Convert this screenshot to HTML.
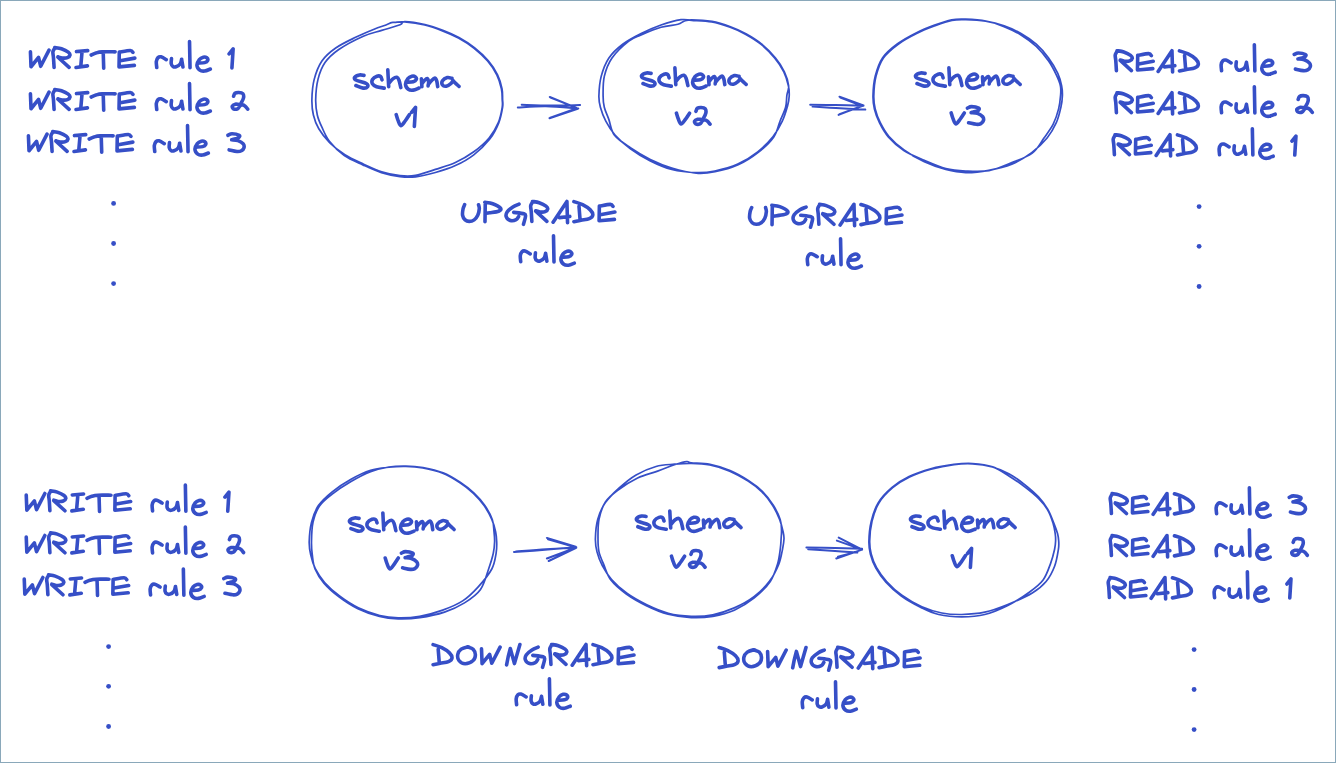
<!DOCTYPE html>
<html><head><meta charset="utf-8"><title>Schema upgrade / downgrade rules</title>
<style>
html,body{margin:0;padding:0;background:#fff;}
body{width:1336px;height:763px;overflow:hidden;font-family:"Liberation Sans",sans-serif;}
svg{display:block;}
</style></head><body>
<svg width="1336" height="763" viewBox="0 0 1336 763">
<rect x="0.5" y="0.5" width="1335" height="762" fill="#fff" stroke="#8aa8ba" stroke-width="1"/>
<g fill="none" stroke="#364fc7" stroke-linecap="round" stroke-linejoin="round">
<path stroke-width="1.7" d="M404.7,21.9C409.65,22.33 418.3,23.47 424.7,25C431.1,26.53 437.48,28.93 443.1,31.1C448.72,33.27 453.28,35.18 458.4,38C463.52,40.82 468.93,44.17 473.8,48C478.67,51.83 483.77,56.53 487.6,61C491.43,65.47 494.5,70.18 496.8,74.8C499.1,79.42 500.5,84.6 501.4,88.7C502.3,92.8 502.07,96.3 502.2,99.4C502.33,102.5 502.85,103.43 502.2,107.3C501.55,111.17 500.48,117.48 498.3,122.6C496.12,127.72 493.18,133.13 489.1,138C485.02,142.87 479.42,147.72 473.8,151.8C468.18,155.88 461.8,159.57 455.4,162.5C449,165.43 442.05,167.25 435.4,169.4C428.75,171.55 421.38,174.37 415.5,175.4C409.62,176.43 405.73,176.22 400.1,175.6C394.47,174.98 387.83,173.63 381.7,171.7C375.57,169.77 369.43,166.82 363.3,164C357.17,161.18 350.52,158.37 344.9,154.8C339.28,151.23 333.95,146.93 329.6,142.6C325.25,138.27 321.5,133.4 318.8,128.8C316.1,124.2 314.55,119.88 313.4,115C312.25,110.12 311.77,105.43 311.9,99.5C312.03,93.57 312.53,85.82 314.2,79.4C315.87,72.98 318.32,66.23 321.9,61C325.48,55.77 330.08,51.95 335.7,48C341.32,44.05 349.2,40.43 355.6,37.3C362,34.17 369.03,31.25 374.1,29.2C379.17,27.15 383.1,26.1 386,25C388.9,23.9 390,23.03 391.5,22.6C393,22.17 392.8,22.52 395,22.4C397.2,22.28 399.75,21.47 404.7,21.9M404.65,21.6C408.78,21.55 418.4,23.02 424.88,24.52C431.35,26.02 437.81,28.42 443.48,30.6C449.16,32.78 453.77,34.74 458.93,37.6C464.09,40.46 469.55,43.86 474.45,47.74C479.36,51.62 484.48,56.38 488.34,60.89C492.19,65.41 495.31,70.21 497.58,74.83C499.86,79.46 501.16,84.56 502,88.66C502.83,92.76 502.5,96.32 502.6,99.45C502.7,102.58 503.23,103.52 502.59,107.42C501.95,111.32 500.89,117.57 498.76,122.85C496.63,128.13 493.96,133.77 489.8,139.09C485.64,144.42 479.53,150.38 473.8,154.8C468.07,159.22 461.8,162.65 455.4,165.6C449,168.55 442.04,170.63 435.4,172.5C428.76,174.37 421.46,176.12 415.56,176.8C409.66,177.48 405.7,177.29 400.01,176.59C394.32,175.9 387.62,174.61 381.43,172.65C375.24,170.7 369.05,167.72 362.86,164.87C356.68,162.02 349.87,159.45 344.32,155.55C338.78,151.66 333.34,146.23 329.6,141.5C325.86,136.77 323.95,131.62 321.9,127.2C319.85,122.78 318.33,119.6 317.3,115C316.27,110.4 315.58,105.53 315.7,99.6C315.82,93.67 316.45,85.57 318,79.4C319.55,73.23 321.53,67.58 325,62.6C328.47,57.62 332.42,53.9 338.8,49.5C345.18,45.1 356.15,39.38 363.3,36.2C370.45,33.02 375.57,32.3 381.7,30.4C387.83,28.5 396.28,26.27 400.1,24.8C403.92,23.33 400.52,21.65 404.65,21.6M691.7,20.4C696.82,20.78 705.3,20.85 711.7,22C718.1,23.15 724.48,25.27 730.1,27.3C735.72,29.33 740.28,31.38 745.4,34.2C750.52,37.02 755.93,40.23 760.8,44.2C765.67,48.17 770.77,53.4 774.6,58C778.43,62.6 781.5,67.18 783.8,71.8C786.1,76.42 787.5,81.67 788.4,85.7C789.3,89.73 789.33,92.65 789.2,96C789.07,99.35 788.75,101.6 787.6,105.8C786.45,110 784.72,116.08 782.3,121.2C779.88,126.32 777.2,131.4 773.1,136.5C769,141.6 763.58,147.2 757.7,151.8C751.82,156.4 744.95,160.9 737.8,164.1C730.65,167.3 721.72,169.58 714.8,171C707.88,172.42 703.47,172.85 696.3,172.6C689.13,172.35 679.47,171.43 671.8,169.5C664.13,167.57 657.2,164.45 650.3,161C643.4,157.55 636.28,153.13 630.4,148.8C624.52,144.47 619.1,139.6 615,135C610.9,130.4 608.23,125.82 605.8,121.2C603.37,116.58 601.55,111.5 600.4,107.3C599.25,103.1 598.77,101.15 598.9,96C599.03,90.85 599.53,82.73 601.2,76.4C602.87,70.07 605.32,63.37 608.9,58C612.48,52.63 617.33,48.28 622.7,44.2C628.07,40.12 634.72,36.7 641.1,33.5C647.48,30.3 654.35,27.3 661,25C667.65,22.7 675.88,20.47 681,19.7C686.12,18.93 686.58,20.02 691.7,20.4M691.64,19.8C696.28,19.84 705.39,20.25 711.86,21.42C718.33,22.58 724.79,24.73 730.46,26.79C736.14,28.85 740.75,30.93 745.91,33.79C751.08,36.64 756.54,39.9 761.44,43.92C766.34,47.93 771.51,53.23 775.33,57.88C779.16,62.53 782.17,67.19 784.38,71.82C786.59,76.44 788.18,81.76 788.6,85.64C789.02,89.52 787.4,91.49 786.9,95.1C786.4,98.71 786.75,102.95 785.6,107.3C784.45,111.65 781.97,116.27 780,121.2C778.03,126.13 777.41,131.71 773.79,136.9C770.17,142.09 764.2,147.71 758.27,152.36C752.34,157.01 745.41,161.56 738.2,164.8C730.98,168.03 721.96,170.38 714.98,171.78C707.99,173.18 703.49,173.83 696.29,173.2C689.1,172.57 679.47,170.28 671.8,168C664.13,165.72 657.2,162.87 650.3,159.5C643.4,156.13 636.4,151.91 630.4,147.8C624.4,143.69 617.87,139.57 614.29,134.87C610.71,130.17 610.56,124.19 608.9,119.6C607.24,115.01 605.27,111.23 604.3,107.3C603.33,103.37 603.1,101.15 603.1,96C603.1,90.85 602.82,82.73 604.3,76.4C605.78,70.07 607.92,63.87 612,58C616.08,52.13 623.95,45.03 628.8,41.2C633.65,37.37 635.73,37.32 641.1,35C646.47,32.68 654.87,29.08 661,27.3C667.13,25.52 674.07,25.32 677.9,24.3C681.73,23.28 681.71,21.95 684,21.2C686.29,20.45 687,19.77 691.64,19.8M965.7,19.7C971.33,19.83 979.3,20.18 985.7,21.2C992.1,22.22 998.22,23.75 1004.1,25.8C1009.98,27.85 1015.63,30.43 1021,33.5C1026.37,36.57 1031.7,40.12 1036.3,44.2C1040.9,48.28 1045.02,53.13 1048.6,58C1052.18,62.87 1055.63,68.78 1057.8,73.4C1059.97,78.02 1060.83,81.98 1061.6,85.7C1062.37,89.42 1062.52,92.1 1062.4,95.7C1062.28,99.3 1061.92,102.8 1060.9,107.3C1059.88,111.8 1058.6,117.58 1056.3,122.7C1054,127.82 1051.2,133.02 1047.1,138C1043,142.98 1037.58,148.25 1031.7,152.6C1025.82,156.95 1018.95,161.15 1011.8,164.1C1004.65,167.05 996.48,168.88 988.8,170.3C981.12,171.72 972.87,172.73 965.7,172.6C958.53,172.47 952.7,171.3 945.8,169.5C938.9,167.7 931.2,165 924.3,161.8C917.4,158.6 910.28,154.52 904.4,150.3C898.52,146.08 893.02,141.1 889,136.5C884.98,131.9 882.6,127.3 880.3,122.7C878,118.1 876.28,113.4 875.2,108.9C874.12,104.4 873.67,101.12 873.8,95.7C873.93,90.28 874.4,82.68 876,76.4C877.6,70.12 879.7,63.37 883.4,58C887.1,52.63 892.67,48.28 898.2,44.2C903.73,40.12 910.47,36.57 916.6,33.5C922.73,30.43 929.12,27.98 935,25.8C940.88,23.62 946.78,21.42 951.9,20.4C957.02,19.38 960.07,19.57 965.7,19.7M965.64,19.2C971.34,19.4 979.45,19.78 985.86,21.02C992.27,22.25 998.24,24.27 1004.1,26.6C1009.96,28.93 1015.63,31.68 1021,35C1026.37,38.32 1031.7,42.15 1036.3,46.5C1040.9,50.85 1045.27,56.37 1048.6,61.1C1051.93,65.83 1054.33,70.8 1056.3,74.9C1058.27,79 1059.68,82.33 1060.4,85.7C1061.12,89.07 1060.9,91.23 1060.6,95.1C1060.3,98.97 1059.83,104.05 1058.6,108.9C1057.37,113.75 1055.63,119.35 1053.2,124.2C1050.77,129.05 1047.49,133.17 1044,138C1040.51,142.83 1037.64,149.06 1032.27,153.16C1026.9,157.26 1019.01,159.7 1011.8,162.6C1004.59,165.5 996.66,169.18 988.98,170.58C981.3,171.98 972.9,171.35 965.7,171C958.5,170.65 952.7,170.28 945.8,168.5C938.9,166.72 931.3,163.3 924.3,160.3C917.3,157.3 909.79,154.43 903.79,150.52C897.79,146.62 892.34,141.47 888.29,136.88C884.25,132.28 881.85,127.59 879.54,122.95C877.23,118.31 875.5,113.57 874.41,109.03C873.32,104.5 872.87,101.19 873,95.72C873.13,90.26 873.6,82.6 875.21,76.26C876.82,69.93 878.94,63.12 882.66,57.71C886.38,52.29 891.97,47.89 897.53,43.76C903.1,39.62 909.88,36.02 916.06,32.91C922.24,29.8 928.68,27.28 934.62,25.1C940.56,22.91 946.52,20.81 951.7,19.83C956.87,18.84 959.95,19 965.64,19.2M405.9,466.4C411.53,466.53 416.67,466.85 422.8,468C428.93,469.15 436.57,470.87 442.7,473.3C448.83,475.73 454.48,479.27 459.6,482.6C464.72,485.93 469.32,489.47 473.4,493.3C477.48,497.13 481.03,501.25 484.1,505.6C487.17,509.95 489.88,515.05 491.8,519.4C493.72,523.75 494.78,527.97 495.6,531.7C496.42,535.43 496.62,538.2 496.7,541.8C496.78,545.4 496.92,548.77 496.1,553.3C495.28,557.83 494.82,563.37 491.8,569C488.78,574.63 482.85,581.78 478,587.1C473.15,592.42 468.58,597.07 462.7,600.9C456.82,604.73 449.87,607.53 442.7,610.1C435.53,612.67 427.12,615.02 419.7,616.3C412.28,617.58 404.85,617.93 398.2,617.8C391.55,617.67 386.45,617.17 379.8,615.5C373.15,613.83 364.95,611 358.3,607.8C351.65,604.6 345.52,600.52 339.9,596.3C334.28,592.08 328.7,587.1 324.6,582.5C320.5,577.9 317.62,573.3 315.3,568.7C312.98,564.1 311.72,559.38 310.7,554.9C309.68,550.42 309.07,547.22 309.2,541.8C309.33,536.38 309.97,528.43 311.5,522.4C313.03,516.37 314.95,510.7 318.4,505.6C321.85,500.5 326.83,496.15 332.2,491.8C337.57,487.45 344.2,483.08 350.6,479.5C357,475.92 364.2,472.35 370.6,470.3C377,468.25 383.12,467.85 389,467.2C394.88,466.55 400.27,466.27 405.9,466.4M405.9,466C411.59,466.1 416.79,466.47 422.99,467.62C429.18,468.77 436.9,470.45 443.09,472.9C449.28,475.35 454.99,478.95 460.15,482.32C465.31,485.7 469.95,489.27 474.06,493.15C478.18,497.03 481.8,501.21 484.84,505.59C487.87,509.96 490.75,515.07 492.28,519.42C493.81,523.77 493.61,527.97 494,531.7C494.39,535.43 494.72,538.2 494.6,541.8C494.48,545.4 494.28,548.82 493.3,553.3C492.32,557.78 490.83,562.67 488.7,568.7C486.57,574.73 484.53,583.8 480.5,589.5C476.47,595.2 470.5,599.13 464.5,602.9C458.5,606.67 451.94,609.65 444.5,612.1C437.06,614.55 427.57,616.47 419.84,617.59C412.11,618.7 404.84,618.98 398.12,618.8C391.41,618.61 386.25,618.15 379.54,616.46C372.83,614.77 364.55,611.9 357.84,608.66C351.14,605.42 344.95,601.29 339.3,597.02C333.64,592.76 327.94,587.76 323.89,583.08C319.85,578.4 316.97,573.64 315.04,568.95C313.11,564.25 312.89,559.42 312.3,554.9C311.71,550.38 311.38,547.22 311.5,541.8C311.62,536.38 311.67,528.37 313,522.4C314.33,516.43 316.3,510.72 319.5,506C322.7,501.28 327.02,498.13 332.2,494.1C337.38,490.07 344.2,485.52 350.6,481.8C357,478.08 364.23,474.26 370.6,471.8C376.97,469.34 382.93,467.99 388.82,467.02C394.7,466.05 400.2,465.9 405.9,466M691.3,463.4C697.18,463.53 703.4,463.72 709.8,465C716.2,466.28 723.32,468.42 729.7,471.1C736.08,473.78 742.73,477.65 748.1,481.1C753.47,484.55 757.8,487.72 761.9,491.8C766,495.88 769.75,501 772.7,505.6C775.65,510.2 777.87,515.05 779.6,519.4C781.33,523.75 782.37,528.47 783.1,531.7C783.83,534.93 784.08,535.95 784,538.8C783.92,541.65 783.47,544.57 782.6,548.8C781.73,553.03 780.97,558.83 778.8,564.2C776.63,569.57 773.68,575.63 769.6,581C765.52,586.37 760.18,591.92 754.3,596.4C748.42,600.88 741.22,604.83 734.3,607.9C727.38,610.97 719.97,613.4 712.8,614.8C705.63,616.2 698.72,616.55 691.3,616.3C683.88,616.05 675.72,615.22 668.3,613.3C660.88,611.38 653.7,608.13 646.8,604.8C639.9,601.47 632.77,597.52 626.9,593.3C621.03,589.08 615.7,584.1 611.6,579.5C607.5,574.9 604.73,570.3 602.3,565.7C599.87,561.1 598.15,556.38 597,551.9C595.85,547.42 595.28,544.22 595.4,538.8C595.52,533.38 596.03,525.43 597.7,519.4C599.37,513.37 601.82,507.83 605.4,502.6C608.98,497.37 614.08,492.6 619.2,488C624.32,483.4 629.97,478.58 636.1,475C642.23,471.42 649.6,468.3 656,466.5C662.4,464.7 668.62,464.72 674.5,464.2C680.38,463.68 685.42,463.27 691.3,463.4M691.27,462.8C695.15,463.29 703.51,463.12 709.97,464.42C716.44,465.72 723.64,467.88 730.09,470.6C736.53,473.32 743.25,477.24 748.66,480.73C754.07,484.22 758.44,487.43 762.57,491.56C766.7,495.69 770.51,500.86 773.45,505.51C776.38,510.16 778.84,515.36 780.18,519.44C781.53,523.53 781.35,526.77 781.5,530C781.65,533.23 781.3,535.67 781.1,538.8C780.9,541.93 780.9,544.57 780.3,548.8C779.7,553.03 779.17,558.77 777.5,564.2C775.83,569.63 774.16,575.79 770.29,581.4C766.42,587.02 760.3,593.1 754.3,597.9C748.3,602.7 741.22,607.13 734.3,610.2C727.38,613.27 719.97,615.07 712.8,616.3C705.63,617.53 698.73,617.94 691.27,617.6C683.82,617.26 675.54,616.25 668.05,614.26C660.56,612.27 653.31,609.03 646.35,605.66C639.39,602.29 632.2,598.28 626.29,594.02C620.38,589.75 614.62,584.92 610.89,580.07C607.16,575.22 605.88,569.6 603.9,564.9C601.92,560.2 599.98,556.25 599,551.9C598.02,547.55 598,544.22 598,538.8C598,533.38 597.79,525.48 599,519.4C600.21,513.32 602.14,507.16 605.25,502.31C608.37,497.46 612.31,494.35 617.7,490.3C623.09,486.25 630.95,481.2 637.6,478C644.25,474.8 651.2,473.4 657.6,471.1C664,468.8 671.15,465.8 676,464.2C680.85,462.6 684.15,461.73 686.7,461.5C689.25,461.27 687.39,462.31 691.27,462.8M972.5,463.9C978.88,464.28 986.27,465.33 992.4,467C998.53,468.67 1003.92,470.97 1009.3,473.9C1014.68,476.83 1019.83,480.77 1024.7,484.6C1029.57,488.43 1034.67,492.8 1038.5,496.9C1042.33,501 1045.15,504.85 1047.7,509.2C1050.25,513.55 1052.15,518.92 1053.8,523C1055.45,527.08 1056.78,530.7 1057.6,533.7C1058.42,536.7 1058.57,538.4 1058.7,541C1058.83,543.6 1059.08,545.1 1058.4,549.3C1057.72,553.5 1056.65,560.83 1054.6,566.2C1052.55,571.57 1049.82,577.03 1046.1,581.5C1042.38,585.97 1038.68,589.17 1032.3,593C1025.92,596.83 1015.72,601.3 1007.8,604.5C999.88,607.7 992.48,610.53 984.8,612.2C977.12,613.87 968.87,614.37 961.7,614.5C954.53,614.63 948.45,614.28 941.8,613C935.15,611.72 928.45,609.75 921.8,606.8C915.15,603.85 907.77,599.52 901.9,595.3C896.03,591.08 890.82,586.1 886.6,581.5C882.38,576.9 879.17,572.3 876.6,567.7C874.03,563.1 872.35,558.35 871.2,553.9C870.05,549.45 869.57,546.42 869.7,541C869.83,535.58 870.47,527.73 872,521.4C873.53,515.07 875.45,508.62 878.9,503C882.35,497.38 887.58,492.03 892.7,487.7C897.82,483.37 903.2,480.07 909.6,477C916,473.93 923.68,471.35 931.1,469.3C938.52,467.25 947.2,465.6 954.1,464.7C961,463.8 966.12,463.52 972.5,463.9M972.54,463.5C978.99,463.9 986.52,464.72 992.65,466.84C998.78,468.96 1003.96,472.86 1009.3,476.2C1014.64,479.54 1019.83,483.18 1024.7,486.9C1029.57,490.62 1034.67,494.65 1038.5,498.5C1042.33,502.35 1045.28,505.92 1047.7,510C1050.12,514.08 1051.75,519.05 1053,523C1054.25,526.95 1054.77,530.7 1055.2,533.7C1055.63,536.7 1055.7,538.4 1055.6,541C1055.5,543.6 1055.42,545.62 1054.6,549.3C1053.78,552.98 1052.62,557.98 1050.7,563.1C1048.78,568.22 1046.67,575.15 1043.1,580C1039.53,584.85 1035.18,587.95 1029.3,592.2C1023.42,596.45 1015.22,601.78 1007.8,605.5C1000.38,609.22 992.48,612.62 984.8,614.5C977.12,616.38 969.38,616.8 961.7,616.8C954.02,616.8 945.43,616.02 938.7,614.5C931.97,612.98 927.58,610.74 921.35,607.66C915.11,604.58 907.2,600.28 901.29,596.02C895.38,591.76 890.14,586.72 885.89,582.08C881.65,577.43 878.42,572.79 875.84,568.15C873.26,563.51 871.57,558.72 870.41,554.23C869.25,549.74 868.77,546.69 868.9,541.23C869.03,535.77 869.67,527.85 871.21,521.47C872.75,515.08 874.68,508.58 878.15,502.91C881.62,497.25 886.88,491.84 892.03,487.46C897.18,483.08 902.59,479.74 909.04,476.63C915.49,473.52 923.23,470.84 930.71,468.8C938.19,466.77 946.97,465.3 953.94,464.42C960.91,463.53 966.08,463.1 972.54,463.5"/>
<path stroke-width="2" d="M517.8,107.5C522.48,107.28 535.82,106.05 545.9,106.2C555.98,106.35 572.9,108.03 578.3,108.4M521.7,104.8C526.42,104.92 540.27,105.45 550,105.5C559.73,105.55 575.08,105.17 580.1,105.1M549.8,97L574.7,107.2M550.5,97.6L576,107.6M549.5,118.2L577.7,108.7M550.3,117.6L577,108.2M810.2,104.8C814.33,104.85 826.12,104.95 835,105.1C843.88,105.25 858.75,105.6 863.5,105.7M812.6,106.6C816.48,106.85 827.12,107.6 835.9,108.1C844.68,108.6 860.4,109.35 865.3,109.6M839.5,96.7L863.5,105.4M840.3,97.5L862.5,106M838.6,114.9L859.9,106.6M839.5,114.2L862,106M514,552C519.17,551.63 534.62,550.6 545,549.8C555.38,549 571.08,547.63 576.3,547.2M516,551.5C521,551.12 535.95,549.82 546,549.2C556.05,548.58 571.25,548.03 576.3,547.8M546.9,537.9L575.7,546.6M548,539.2L575.7,547.2M546.9,558.5L575.7,547.8M548.7,561L575.7,548.2M806.4,547.5C811.17,547.58 825.72,547.8 835,548C844.28,548.2 857.58,548.58 862.1,548.7M808.2,549.3C812.67,549.58 826.82,550.45 835,551C843.18,551.55 853.58,552.33 857.3,552.6M836.9,540.6L862.1,549.6M838.7,537.6L862.1,549.6M836.3,558.5L862.1,549.6M838,556.8L857.9,551.4"/>
<path stroke-width="3.6" d="M30.43,51.77L31.02,66.75L38.56,57.46L40.71,66.3L49.03,50.15M54.22,48.93C54,49.44 53.01,50.55 52.88,51.98C52.75,53.4 53.26,54.93 53.46,57.5C53.66,60.07 53.98,65.75 54.08,67.4M54.74,47.5C55.86,47.71 59.18,47.96 61.43,48.74C63.68,49.52 66.83,51.1 68.25,52.17C69.68,53.23 70.12,54.2 69.98,55.12C69.84,56.04 68.68,57.2 67.39,57.69C66.09,58.18 63.77,58.21 62.2,58.07C60.63,57.93 58.68,57.04 57.97,56.83M57.97,57.21L69.12,67.4M76.48,51.57L87.73,50.65M82.1,51.11L80.76,66.53M76.03,67.55L87.46,65.89M91.23,55.02C92.02,54.68 94.17,53.5 95.99,52.97C97.82,52.44 98.99,52.04 102.18,51.85C105.37,51.66 112.97,51.85 115.13,51.85M103.23,52.6L103.7,68.15M132.94,52.43C132.5,52.1 132.53,50.5 130.25,50.45C127.98,50.4 121.12,51.88 119.3,52.16M119.3,52.16L119.03,66.85L134.38,65.41M120.2,60.72L134.83,58.11M156.75,67.55C156.68,66.55 156.12,63.21 156.33,61.56C156.54,59.9 157.25,58.41 158.02,57.62C158.8,56.84 159.62,56.51 160.98,56.85C162.35,57.19 165.36,59.2 166.23,59.67M171.49,58.65C171.45,59.5 170.98,62.45 171.23,63.76C171.48,65.06 172.17,65.97 172.96,66.47C173.76,66.98 174.8,67.21 176,66.8C177.2,66.39 179.22,65.27 180.16,64C181.1,62.74 181.38,60.02 181.63,59.23M181.63,59.23L182.93,67.05M189.53,41.65L190.03,67.75M198.43,63.08C199.46,63.01 203.06,63.08 204.6,62.64C206.14,62.2 207.32,61.24 207.69,60.43C208.05,59.61 207.54,58.32 206.8,57.77C206.07,57.22 204.53,56.85 203.28,57.15C202.03,57.45 200.37,58.18 199.31,59.54C198.25,60.9 196.86,63.52 196.93,65.3C197,67.07 198.47,69.21 199.75,70.16C201.03,71.12 202.84,71.24 204.6,71.05C206.36,70.86 209.37,69.35 210.33,69.01M229.13,53.85L233.13,48.85L231.93,67.85M30.43,93.77L31.02,108.75L38.56,99.46L40.71,108.3L49.03,92.15M54.22,90.93C54,91.44 53.01,92.55 52.88,93.98C52.75,95.4 53.26,96.93 53.46,99.5C53.66,102.07 53.98,107.75 54.08,109.4M54.74,89.5C55.86,89.71 59.18,89.96 61.43,90.74C63.68,91.52 66.83,93.1 68.25,94.17C69.68,95.23 70.12,96.2 69.98,97.12C69.84,98.04 68.68,99.2 67.39,99.69C66.09,100.18 63.77,100.21 62.2,100.07C60.63,99.93 58.68,99.04 57.97,98.83M57.97,99.21L69.12,109.4M76.48,93.57L87.73,92.65M82.1,93.11L80.76,108.53M76.03,109.55L87.46,107.89M91.23,97.02C92.02,96.68 94.17,95.5 95.99,94.97C97.82,94.44 98.99,94.04 102.18,93.85C105.37,93.66 112.97,93.85 115.13,93.85M103.23,94.6L103.7,110.15M132.94,94.43C132.5,94.1 132.53,92.5 130.25,92.45C127.98,92.4 121.12,93.88 119.3,94.16M119.3,94.16L119.03,108.85L134.38,107.41M120.2,102.72L134.83,100.11M156.75,109.55C156.68,108.55 156.12,105.21 156.33,103.56C156.54,101.9 157.25,100.41 158.02,99.62C158.8,98.84 159.62,98.51 160.98,98.85C162.35,99.19 165.36,101.2 166.23,101.67M171.49,100.65C171.45,101.5 170.98,104.45 171.23,105.76C171.48,107.06 172.17,107.97 172.96,108.47C173.76,108.98 174.8,109.21 176,108.8C177.2,108.39 179.22,107.27 180.16,106C181.1,104.74 181.38,102.02 181.63,101.23M181.63,101.23L182.93,109.05M189.53,83.65L190.03,109.75M198.43,105.08C199.46,105.01 203.06,105.08 204.6,104.64C206.14,104.2 207.32,103.24 207.69,102.43C208.05,101.61 207.54,100.32 206.8,99.77C206.07,99.22 204.53,98.85 203.28,99.15C202.03,99.45 200.37,100.18 199.31,101.54C198.25,102.9 196.86,105.52 196.93,107.3C197,109.07 198.47,111.21 199.75,112.16C201.03,113.12 202.84,113.24 204.6,113.05C206.36,112.86 209.37,111.35 210.33,111.01M233.62,96.24C233.85,95.74 234.12,93.89 234.97,93.26C235.82,92.63 237.41,92.39 238.73,92.45C240.04,92.51 242.04,92.74 242.85,93.62C243.65,94.51 243.82,96.26 243.56,97.78C243.31,99.3 241.96,101.64 241.32,102.74C240.68,103.84 240.71,104.12 239.71,104.37C238.71,104.61 236.56,103.9 235.32,104.19C234.09,104.47 232.59,105.31 232.28,106.08C231.97,106.85 232.56,108.34 233.44,108.79C234.32,109.24 236.44,109.3 237.56,108.79C238.68,108.28 239.41,106.41 240.16,105.72C240.91,105.03 241.22,104.58 242.04,104.64C242.86,104.7 244.14,105.33 245.08,106.08C246.02,106.83 247.25,108.64 247.68,109.15M28.43,135.77L29.02,150.75L36.56,141.46L38.71,150.3L47.03,134.15M52.22,132.93C52,133.44 51.01,134.55 50.88,135.98C50.75,137.4 51.26,138.93 51.46,141.5C51.66,144.07 51.98,149.75 52.08,151.4M52.74,131.5C53.86,131.71 57.18,131.96 59.43,132.74C61.68,133.52 64.83,135.1 66.25,136.17C67.68,137.23 68.12,138.2 67.98,139.12C67.84,140.04 66.68,141.2 65.39,141.69C64.09,142.18 61.77,142.21 60.2,142.07C58.63,141.93 56.68,141.04 55.97,140.83M55.97,141.21L67.12,151.4M74.48,135.57L85.73,134.65M80.1,135.11L78.76,150.53M74.03,151.55L85.46,149.89M89.23,139.02C90.02,138.68 92.17,137.5 93.99,136.97C95.82,136.44 96.99,136.04 100.18,135.85C103.37,135.66 110.97,135.85 113.13,135.85M101.23,136.6L101.7,152.15M130.94,136.43C130.5,136.1 130.53,134.5 128.25,134.45C125.98,134.4 119.12,135.88 117.3,136.16M117.3,136.16L117.03,150.85L132.38,149.41M118.2,144.72L132.83,142.11M154.75,151.55C154.68,150.55 154.12,147.21 154.33,145.56C154.54,143.9 155.25,142.41 156.02,141.62C156.8,140.84 157.62,140.51 158.98,140.85C160.35,141.19 163.36,143.2 164.23,143.67M169.49,142.65C169.45,143.5 168.98,146.45 169.23,147.76C169.48,149.06 170.17,149.97 170.96,150.47C171.76,150.98 172.8,151.21 174,150.8C175.2,150.39 177.22,149.27 178.16,148C179.1,146.74 179.38,144.02 179.63,143.23M179.63,143.23L180.93,151.05M187.53,125.65L188.03,151.75M196.43,147.08C197.46,147.01 201.06,147.08 202.6,146.64C204.14,146.2 205.32,145.24 205.69,144.43C206.05,143.61 205.54,142.32 204.8,141.77C204.07,141.22 202.53,140.85 201.28,141.15C200.03,141.45 198.37,142.18 197.31,143.54C196.25,144.9 194.86,147.52 194.93,149.3C195,151.07 196.47,153.21 197.75,154.16C199.03,155.12 200.84,155.24 202.6,155.05C204.36,154.86 207.37,153.35 208.33,153.01M227.98,135.28C228.66,135.02 230.2,133.75 232.07,133.75C233.94,133.75 238.05,134.65 239.18,135.28C240.31,135.91 239.39,136.95 238.82,137.52C238.26,138.09 236.99,138.32 235.8,138.69C234.62,139.07 232.39,139.59 231.71,139.77M231.71,139.77C232.77,139.9 236.1,139.89 238.02,140.58C239.95,141.27 242.28,142.72 243.27,143.9C244.26,145.09 244.29,146.54 243.98,147.68C243.67,148.81 242.57,150.1 241.4,150.73C240.23,151.36 239,151.58 236.96,151.45C234.91,151.32 230.44,150.18 229.14,149.92M1116.54,52.13C1116.32,52.64 1115.33,53.75 1115.2,55.18C1115.07,56.6 1115.58,58.13 1115.78,60.7C1115.98,63.27 1116.3,68.95 1116.4,70.6M1117.06,50.7C1118.18,50.91 1121.5,51.16 1123.75,51.94C1126,52.72 1129.15,54.3 1130.57,55.37C1132,56.43 1132.44,57.4 1132.3,58.32C1132.16,59.24 1131,60.4 1129.71,60.89C1128.41,61.38 1126.09,61.41 1124.52,61.27C1122.95,61.13 1121,60.24 1120.29,60.03M1120.29,60.41L1131.44,70.6M1151.36,55.63C1150.92,55.3 1150.95,53.7 1148.67,53.65C1146.4,53.6 1139.54,55.08 1137.72,55.36M1137.72,55.36L1137.45,70.05L1152.8,68.61M1138.62,63.92L1153.25,61.31M1158.15,71.4L1171.96,50.65L1172.59,71.95M1164.47,66.88L1174.85,65.68M1179.45,50.85C1180.9,51.37 1185.4,52.59 1188.12,53.97C1190.85,55.35 1194.09,57.4 1195.79,59.11C1197.5,60.82 1198.52,62.78 1198.35,64.25C1198.18,65.72 1196.75,67.05 1194.79,67.92C1192.83,68.79 1189.13,68.98 1186.57,69.48C1184.02,69.99 1180.64,70.71 1179.45,70.95M1184.56,55.53L1185.57,68.38M1221.57,70.75C1221.5,69.75 1220.94,66.41 1221.15,64.76C1221.36,63.1 1222.07,61.61 1222.84,60.82C1223.62,60.04 1224.44,59.71 1225.8,60.05C1227.17,60.39 1230.18,62.4 1231.05,62.87M1236.31,61.85C1236.27,62.7 1235.8,65.65 1236.05,66.96C1236.3,68.26 1236.99,69.17 1237.78,69.67C1238.58,70.18 1239.62,70.41 1240.82,70C1242.02,69.59 1244.04,68.47 1244.98,67.2C1245.92,65.94 1246.2,63.22 1246.45,62.43M1246.45,62.43L1247.75,70.25M1254.35,44.85L1254.85,70.95M1263.25,66.28C1264.28,66.21 1267.88,66.28 1269.42,65.84C1270.96,65.4 1272.14,64.44 1272.51,63.63C1272.87,62.81 1272.36,61.52 1271.62,60.97C1270.89,60.42 1269.35,60.05 1268.1,60.35C1266.85,60.65 1265.19,61.38 1264.13,62.74C1263.07,64.1 1261.68,66.72 1261.75,68.5C1261.82,70.27 1263.29,72.41 1264.57,73.36C1265.85,74.32 1267.66,74.44 1269.42,74.25C1271.18,74.06 1274.19,72.55 1275.15,72.21M1294.25,54.48C1294.93,54.22 1296.47,52.95 1298.34,52.95C1300.21,52.95 1304.32,53.85 1305.45,54.48C1306.58,55.11 1305.66,56.15 1305.09,56.72C1304.53,57.29 1303.26,57.52 1302.07,57.89C1300.89,58.27 1298.66,58.79 1297.98,58.97M1297.98,58.97C1299.04,59.1 1302.37,59.09 1304.29,59.78C1306.22,60.47 1308.55,61.92 1309.54,63.1C1310.53,64.29 1310.56,65.74 1310.25,66.88C1309.94,68.01 1308.84,69.3 1307.67,69.93C1306.5,70.56 1305.27,70.78 1303.23,70.65C1301.18,70.52 1296.71,69.38 1295.41,69.12M1116.54,94.13C1116.32,94.64 1115.33,95.75 1115.2,97.18C1115.07,98.6 1115.58,100.13 1115.78,102.7C1115.98,105.27 1116.3,110.95 1116.4,112.6M1117.06,92.7C1118.18,92.91 1121.5,93.16 1123.75,93.94C1126,94.72 1129.15,96.3 1130.57,97.37C1132,98.43 1132.44,99.4 1132.3,100.32C1132.16,101.24 1131,102.4 1129.71,102.89C1128.41,103.38 1126.09,103.41 1124.52,103.27C1122.95,103.13 1121,102.24 1120.29,102.03M1120.29,102.41L1131.44,112.6M1151.36,97.63C1150.92,97.3 1150.95,95.7 1148.67,95.65C1146.4,95.6 1139.54,97.08 1137.72,97.36M1137.72,97.36L1137.45,112.05L1152.8,110.61M1138.62,105.92L1153.25,103.31M1158.15,113.4L1171.96,92.65L1172.59,113.95M1164.47,108.88L1174.85,107.68M1179.45,92.85C1180.9,93.37 1185.4,94.59 1188.12,95.97C1190.85,97.35 1194.09,99.4 1195.79,101.11C1197.5,102.82 1198.52,104.78 1198.35,106.25C1198.18,107.72 1196.75,109.05 1194.79,109.92C1192.83,110.79 1189.13,110.98 1186.57,111.48C1184.02,111.99 1180.64,112.71 1179.45,112.95M1184.56,97.53L1185.57,110.38M1221.57,112.75C1221.5,111.75 1220.94,108.41 1221.15,106.76C1221.36,105.1 1222.07,103.61 1222.84,102.82C1223.62,102.04 1224.44,101.71 1225.8,102.05C1227.17,102.39 1230.18,104.4 1231.05,104.87M1236.31,103.85C1236.27,104.7 1235.8,107.65 1236.05,108.96C1236.3,110.26 1236.99,111.17 1237.78,111.67C1238.58,112.18 1239.62,112.41 1240.82,112C1242.02,111.59 1244.04,110.47 1244.98,109.2C1245.92,107.94 1246.2,105.22 1246.45,104.43M1246.45,104.43L1247.75,112.25M1254.35,86.85L1254.85,112.95M1263.25,108.28C1264.28,108.21 1267.88,108.28 1269.42,107.84C1270.96,107.4 1272.14,106.44 1272.51,105.63C1272.87,104.81 1272.36,103.52 1271.62,102.97C1270.89,102.42 1269.35,102.05 1268.1,102.35C1266.85,102.65 1265.19,103.38 1264.13,104.74C1263.07,106.1 1261.68,108.72 1261.75,110.5C1261.82,112.27 1263.29,114.41 1264.57,115.36C1265.85,116.32 1267.66,116.44 1269.42,116.25C1271.18,116.06 1274.19,114.55 1275.15,114.21M1298.19,99.44C1298.42,98.94 1298.69,97.09 1299.54,96.46C1300.39,95.83 1301.98,95.59 1303.3,95.65C1304.61,95.71 1306.61,95.94 1307.42,96.82C1308.22,97.71 1308.39,99.46 1308.13,100.98C1307.88,102.5 1306.53,104.84 1305.89,105.94C1305.25,107.04 1305.28,107.32 1304.28,107.57C1303.28,107.81 1301.13,107.1 1299.89,107.39C1298.66,107.67 1297.16,108.51 1296.85,109.28C1296.54,110.05 1297.13,111.54 1298.01,111.99C1298.89,112.44 1301.01,112.5 1302.13,111.99C1303.25,111.48 1303.98,109.61 1304.73,108.92C1305.48,108.23 1305.79,107.78 1306.61,107.84C1307.43,107.9 1308.71,108.53 1309.65,109.28C1310.59,110.03 1311.82,111.84 1312.25,112.35M1114.54,136.13C1114.32,136.64 1113.33,137.75 1113.2,139.18C1113.07,140.6 1113.58,142.13 1113.78,144.7C1113.98,147.27 1114.3,152.95 1114.4,154.6M1115.06,134.7C1116.18,134.91 1119.5,135.16 1121.75,135.94C1124,136.72 1127.15,138.3 1128.57,139.37C1130,140.43 1130.44,141.4 1130.3,142.32C1130.16,143.24 1129,144.4 1127.71,144.89C1126.41,145.38 1124.09,145.41 1122.52,145.27C1120.95,145.13 1119,144.24 1118.29,144.03M1118.29,144.41L1129.44,154.6M1149.36,139.63C1148.92,139.3 1148.95,137.7 1146.67,137.65C1144.4,137.6 1137.54,139.08 1135.72,139.36M1135.72,139.36L1135.45,154.05L1150.8,152.61M1136.62,147.92L1151.25,145.31M1156.15,155.4L1169.96,134.65L1170.59,155.95M1162.47,150.88L1172.85,149.68M1177.45,134.85C1178.9,135.37 1183.4,136.59 1186.12,137.97C1188.85,139.35 1192.09,141.4 1193.79,143.11C1195.5,144.82 1196.52,146.78 1196.35,148.25C1196.18,149.72 1194.75,151.05 1192.79,151.92C1190.83,152.79 1187.13,152.98 1184.57,153.48C1182.02,153.99 1178.64,154.71 1177.45,154.95M1182.56,139.53L1183.57,152.38M1219.57,154.75C1219.5,153.75 1218.94,150.41 1219.15,148.76C1219.36,147.1 1220.07,145.61 1220.84,144.82C1221.62,144.04 1222.44,143.71 1223.8,144.05C1225.17,144.39 1228.18,146.4 1229.05,146.87M1234.31,145.85C1234.27,146.7 1233.8,149.65 1234.05,150.96C1234.3,152.26 1234.99,153.17 1235.78,153.67C1236.58,154.18 1237.62,154.41 1238.82,154C1240.02,153.59 1242.04,152.47 1242.98,151.2C1243.92,149.94 1244.2,147.22 1244.45,146.43M1244.45,146.43L1245.75,154.25M1252.35,128.85L1252.85,154.95M1261.25,150.28C1262.28,150.21 1265.88,150.28 1267.42,149.84C1268.96,149.4 1270.14,148.44 1270.51,147.63C1270.87,146.81 1270.36,145.52 1269.62,144.97C1268.89,144.42 1267.35,144.05 1266.1,144.35C1264.85,144.65 1263.19,145.38 1262.13,146.74C1261.07,148.1 1259.68,150.72 1259.75,152.5C1259.82,154.27 1261.29,156.41 1262.57,157.36C1263.85,158.32 1265.66,158.44 1267.42,158.25C1269.18,158.06 1272.19,156.55 1273.15,156.21M1291.95,141.05L1295.95,136.05L1294.75,155.05M364,75.37C363.25,75.29 361.07,74.58 359.5,74.91C357.93,75.24 355.12,76.47 354.6,77.37C354.08,78.26 354.45,79.25 356.4,80.28C358.35,81.31 364.43,82.48 366.3,83.56C368.17,84.64 368.13,85.99 367.6,86.75C367.07,87.5 365.05,88.31 363.1,88.11C361.15,87.91 357.1,85.99 355.9,85.56M382,79.84C381.77,79.3 381.43,77.18 380.6,76.57C379.77,75.97 378.35,75.73 377,76.21C375.65,76.69 373.25,78.19 372.5,79.48C371.75,80.77 371.82,82.72 372.5,83.93C373.18,85.14 374.65,86.05 376.6,86.75C378.55,87.44 382.93,87.88 384.2,88.11M387.8,69.91L388.7,86.74M389,83.08C389.7,82.34 391.9,79.56 393.2,78.6C394.5,77.64 395.83,77.05 396.8,77.32C397.77,77.6 398.33,78.53 399,80.25C399.67,81.96 400.5,86.38 400.8,87.61M407,82.14C408.03,82.07 411.63,82.14 413.17,81.7C414.71,81.26 415.89,80.3 416.26,79.49C416.62,78.67 416.11,77.38 415.37,76.83C414.64,76.28 413.1,75.91 411.85,76.21C410.6,76.51 408.94,77.24 407.88,78.6C406.82,79.96 405.43,82.58 405.5,84.36C405.57,86.13 407.04,88.27 408.32,89.22C409.6,90.18 411.41,90.3 413.17,90.11C414.93,89.92 417.94,88.41 418.9,88.07M421.4,78.87L421.9,86.6M421.9,83.71C422.3,83.2 423.43,81.53 424.3,80.66C425.17,79.78 426.38,78.27 427.1,78.45C427.82,78.63 428.43,80.53 428.6,81.76C428.77,82.99 428.18,85.16 428.1,85.84M428.3,84.56C428.82,83.91 430.32,81.73 431.4,80.66C432.48,79.58 433.92,78.07 434.8,78.11C435.68,78.15 436.22,79.5 436.7,80.91C437.18,82.33 437.53,85.65 437.7,86.6M452,78.38C451.22,78.25 448.88,77.2 447.3,77.61C445.72,78.02 443.3,79.64 442.5,80.86C441.7,82.09 441.87,84.09 442.5,84.97C443.13,85.85 444.87,86.44 446.3,86.17C447.73,85.9 449.98,84.3 451.1,83.34C452.22,82.39 452.68,80.92 453,80.43M453,80.43C453.3,80.78 453.8,81.49 454.8,82.49C455.8,83.49 458.3,85.77 459,86.43M396.23,114.7C396.53,115.64 397.26,118.52 398.03,120.34C398.81,122.15 399.69,125.49 400.88,125.6C402.07,125.71 403.75,122.81 405.15,121C406.56,119.18 408.63,115.75 409.33,114.7M411.55,112.45L415.55,107.45L414.35,126.45M651.1,73.37C650.35,73.29 648.17,72.58 646.6,72.91C645.03,73.24 642.22,74.47 641.7,75.37C641.18,76.26 641.55,77.25 643.5,78.28C645.45,79.31 651.53,80.48 653.4,81.56C655.27,82.64 655.23,83.99 654.7,84.75C654.17,85.5 652.15,86.31 650.2,86.11C648.25,85.91 644.2,83.99 643,83.56M669.1,77.84C668.87,77.3 668.53,75.18 667.7,74.57C666.87,73.97 665.45,73.73 664.1,74.21C662.75,74.69 660.35,76.19 659.6,77.48C658.85,78.77 658.92,80.72 659.6,81.93C660.28,83.14 661.75,84.05 663.7,84.75C665.65,85.44 670.03,85.88 671.3,86.11M674.9,67.91L675.8,84.74M676.1,81.08C676.8,80.34 679,77.56 680.3,76.6C681.6,75.64 682.93,75.05 683.9,75.32C684.87,75.6 685.43,76.53 686.1,78.25C686.77,79.96 687.6,84.38 687.9,85.61M694.1,80.14C695.13,80.07 698.73,80.14 700.27,79.7C701.81,79.26 702.99,78.3 703.36,77.49C703.72,76.67 703.21,75.38 702.47,74.83C701.74,74.28 700.2,73.91 698.95,74.21C697.7,74.51 696.04,75.24 694.98,76.6C693.92,77.96 692.53,80.58 692.6,82.36C692.67,84.13 694.14,86.27 695.42,87.22C696.7,88.18 698.51,88.3 700.27,88.11C702.03,87.92 705.04,86.41 706,86.07M708.5,76.87L709,84.6M709,81.71C709.4,81.2 710.53,79.53 711.4,78.66C712.27,77.78 713.48,76.27 714.2,76.45C714.92,76.63 715.53,78.53 715.7,79.76C715.87,80.99 715.28,83.16 715.2,83.84M715.4,82.56C715.92,81.91 717.42,79.73 718.5,78.66C719.58,77.58 721.02,76.07 721.9,76.11C722.78,76.15 723.32,77.5 723.8,78.91C724.28,80.33 724.63,83.65 724.8,84.6M739.1,76.38C738.32,76.25 735.98,75.2 734.4,75.61C732.82,76.02 730.4,77.64 729.6,78.86C728.8,80.09 728.97,82.09 729.6,82.97C730.23,83.85 731.97,84.44 733.4,84.17C734.83,83.9 737.08,82.3 738.2,81.34C739.32,80.39 739.78,78.92 740.1,78.43M740.1,78.43C740.4,78.78 740.9,79.49 741.9,80.49C742.9,81.49 745.4,83.77 746.1,84.43M676.45,113.15C676.75,114.09 677.48,116.97 678.25,118.79C679.03,120.6 679.91,123.94 681.1,124.05C682.29,124.16 683.97,121.26 685.37,119.45C686.78,117.63 688.85,114.2 689.55,113.15M695.94,111.29C696.17,110.79 696.44,108.94 697.29,108.31C698.14,107.68 699.73,107.44 701.05,107.5C702.36,107.56 704.36,107.79 705.17,108.67C705.97,109.56 706.14,111.31 705.88,112.83C705.63,114.35 704.28,116.69 703.64,117.79C703,118.89 703.03,119.17 702.03,119.42C701.03,119.66 698.88,118.95 697.64,119.24C696.41,119.52 694.91,120.36 694.6,121.13C694.29,121.9 694.88,123.39 695.76,123.84C696.64,124.29 698.76,124.35 699.88,123.84C701,123.33 701.73,121.46 702.48,120.77C703.23,120.08 703.54,119.63 704.36,119.69C705.18,119.75 706.46,120.38 707.4,121.13C708.34,121.88 709.57,123.69 710,124.2M925.1,73.37C924.35,73.29 922.17,72.58 920.6,72.91C919.03,73.24 916.22,74.47 915.7,75.37C915.18,76.26 915.55,77.25 917.5,78.28C919.45,79.31 925.53,80.48 927.4,81.56C929.27,82.64 929.23,83.99 928.7,84.75C928.17,85.5 926.15,86.31 924.2,86.11C922.25,85.91 918.2,83.99 917,83.56M943.1,77.84C942.87,77.3 942.53,75.18 941.7,74.57C940.87,73.97 939.45,73.73 938.1,74.21C936.75,74.69 934.35,76.19 933.6,77.48C932.85,78.77 932.92,80.72 933.6,81.93C934.28,83.14 935.75,84.05 937.7,84.75C939.65,85.44 944.03,85.88 945.3,86.11M948.9,67.91L949.8,84.74M950.1,81.08C950.8,80.34 953,77.56 954.3,76.6C955.6,75.64 956.93,75.05 957.9,75.32C958.87,75.6 959.43,76.53 960.1,78.25C960.77,79.96 961.6,84.38 961.9,85.61M968.1,80.14C969.13,80.07 972.73,80.14 974.27,79.7C975.81,79.26 976.99,78.3 977.36,77.49C977.72,76.67 977.21,75.38 976.47,74.83C975.74,74.28 974.2,73.91 972.95,74.21C971.7,74.51 970.04,75.24 968.98,76.6C967.92,77.96 966.53,80.58 966.6,82.36C966.67,84.13 968.14,86.27 969.42,87.22C970.7,88.18 972.51,88.3 974.27,88.11C976.03,87.92 979.04,86.41 980,86.07M982.5,76.87L983,84.6M983,81.71C983.4,81.2 984.53,79.53 985.4,78.66C986.27,77.78 987.48,76.27 988.2,76.45C988.92,76.63 989.53,78.53 989.7,79.76C989.87,80.99 989.28,83.16 989.2,83.84M989.4,82.56C989.92,81.91 991.42,79.73 992.5,78.66C993.58,77.58 995.02,76.07 995.9,76.11C996.78,76.15 997.32,77.5 997.8,78.91C998.28,80.33 998.63,83.65 998.8,84.6M1013.1,76.38C1012.32,76.25 1009.98,75.2 1008.4,75.61C1006.82,76.02 1004.4,77.64 1003.6,78.86C1002.8,80.09 1002.97,82.09 1003.6,82.97C1004.23,83.85 1005.97,84.44 1007.4,84.17C1008.83,83.9 1011.08,82.3 1012.2,81.34C1013.32,80.39 1013.78,78.92 1014.1,78.43M1014.1,78.43C1014.4,78.78 1014.9,79.49 1015.9,80.49C1016.9,81.49 1019.4,83.77 1020.1,84.43M951.2,112.95C951.5,113.89 952.23,116.77 953,118.59C953.78,120.4 954.66,123.74 955.85,123.85C957.04,123.96 958.72,121.06 960.12,119.25C961.53,117.43 963.6,114 964.3,112.95M967.45,108.13C968.13,107.87 969.67,106.6 971.54,106.6C973.41,106.6 977.52,107.5 978.65,108.13C979.78,108.76 978.86,109.8 978.29,110.37C977.73,110.94 976.46,111.17 975.27,111.54C974.09,111.92 971.86,112.44 971.18,112.62M971.18,112.62C972.24,112.75 975.57,112.74 977.49,113.43C979.42,114.12 981.75,115.57 982.74,116.75C983.73,117.94 983.76,119.39 983.45,120.53C983.14,121.66 982.04,122.95 980.87,123.58C979.7,124.21 978.47,124.43 976.43,124.3C974.38,124.17 969.91,123.03 968.61,122.77M464.63,204.7C464.37,205.38 463.42,206.98 463.08,208.75C462.74,210.52 462.26,213.47 462.6,215.32C462.94,217.17 464.02,218.84 465.11,219.86C466.2,220.87 467.65,221.4 469.16,221.4C470.68,221.4 472.75,220.87 474.18,219.86C475.62,218.84 476.9,217.17 477.76,215.32C478.61,213.47 479.17,210.52 479.3,208.75C479.43,206.98 478.66,205.38 478.53,204.7M485.27,202.78L484.99,221.7M484.8,202.3C486.12,202.54 490.08,202.74 492.7,203.73C495.31,204.71 499.51,206.94 500.5,208.2C501.49,209.45 500.42,210.48 498.62,211.24C496.82,212 491.84,212.43 489.69,212.76C487.54,213.09 486.4,213.16 485.74,213.24M519.01,204.1C517.99,204.57 514.86,205.65 512.88,206.95C510.9,208.25 508.22,210.25 507.12,211.9C506.03,213.56 505.75,215.42 506.3,216.86C506.85,218.3 508.77,220.06 510.41,220.54C512.06,221.01 514.8,220.38 516.17,219.71C517.55,219.04 518.23,217.03 518.64,216.5M513.71,212.36C515.41,212.61 521.98,213.19 523.95,213.83C525.91,214.48 525.58,214.48 525.5,216.22C525.42,217.96 523.82,222.95 523.49,224.3M531.99,202.88C531.77,203.39 530.78,204.5 530.65,205.93C530.52,207.35 531.03,208.88 531.23,211.45C531.43,214.02 531.75,219.7 531.85,221.35M532.51,201.45C533.63,201.66 536.95,201.91 539.2,202.69C541.45,203.47 544.6,205.05 546.02,206.12C547.45,207.18 547.89,208.15 547.75,209.07C547.61,209.99 546.45,211.15 545.16,211.64C543.86,212.13 541.54,212.16 539.97,212.02C538.4,211.88 536.45,210.99 535.74,210.78M535.74,211.16L546.89,221.35M553.1,222.15L566.91,201.4L567.54,222.7M559.42,217.63L569.8,216.43M573.9,201.6C575.35,202.12 579.85,203.34 582.57,204.72C585.3,206.1 588.54,208.15 590.24,209.86C591.95,211.57 592.97,213.53 592.8,215C592.63,216.47 591.2,217.8 589.24,218.67C587.28,219.54 583.58,219.73 581.02,220.23C578.47,220.74 575.09,221.46 573.9,221.7M579.01,206.28L580.02,219.13M613.01,206.38C612.57,206.05 612.6,204.45 610.32,204.4C608.05,204.35 601.19,205.83 599.37,206.11M599.37,206.11L599.1,220.8L614.45,219.36M600.27,214.67L614.9,212.06M520.72,261.68C520.65,260.68 520.09,257.34 520.3,255.69C520.51,254.03 521.22,252.54 521.99,251.75C522.77,250.97 523.59,250.64 524.95,250.98C526.32,251.32 529.33,253.33 530.2,253.8M535.46,252.78C535.42,253.63 534.95,256.58 535.2,257.89C535.45,259.19 536.14,260.1 536.93,260.6C537.73,261.11 538.77,261.34 539.97,260.93C541.17,260.52 543.19,259.4 544.13,258.13C545.07,256.87 545.35,254.15 545.6,253.36M545.6,253.36L546.9,261.18M553.5,235.78L554,261.88M562.4,257.21C563.43,257.14 567.03,257.21 568.57,256.77C570.11,256.33 571.29,255.37 571.66,254.56C572.02,253.74 571.51,252.45 570.77,251.9C570.04,251.35 568.5,250.98 567.25,251.28C566,251.58 564.34,252.31 563.28,253.67C562.22,255.03 560.83,257.65 560.9,259.43C560.97,261.2 562.44,263.34 563.72,264.29C565,265.25 566.81,265.37 568.57,265.18C570.33,264.99 573.34,263.48 574.3,263.14M751.68,207.62C751.42,208.3 750.47,209.9 750.13,211.67C749.79,213.44 749.31,216.39 749.65,218.24C749.99,220.09 751.07,221.76 752.16,222.78C753.25,223.79 754.7,224.32 756.21,224.32C757.73,224.32 759.8,223.79 761.23,222.78C762.67,221.76 763.95,220.09 764.81,218.24C765.66,216.39 766.22,213.44 766.35,211.67C766.48,209.9 765.71,208.3 765.58,207.62M772.32,205.7L772.04,224.62M771.85,205.22C773.17,205.46 777.13,205.66 779.75,206.65C782.36,207.63 786.56,209.86 787.55,211.12C788.54,212.37 787.47,213.4 785.67,214.16C783.87,214.92 778.89,215.35 776.74,215.68C774.59,216.01 773.45,216.08 772.79,216.16M806.06,207.02C805.04,207.49 801.91,208.57 799.93,209.87C797.95,211.17 795.27,213.17 794.17,214.82C793.08,216.48 792.8,218.34 793.35,219.78C793.9,221.22 795.82,222.98 797.46,223.46C799.11,223.93 801.85,223.3 803.22,222.63C804.6,221.96 805.28,219.95 805.69,219.42M800.76,215.28C802.46,215.53 809.03,216.11 811,216.75C812.96,217.4 812.63,217.4 812.55,219.14C812.47,220.88 810.87,225.87 810.54,227.22M819.04,205.8C818.82,206.31 817.83,207.42 817.7,208.85C817.57,210.27 818.08,211.8 818.28,214.37C818.48,216.94 818.8,222.62 818.9,224.27M819.56,204.37C820.68,204.58 824,204.83 826.25,205.61C828.5,206.39 831.65,207.97 833.07,209.04C834.5,210.1 834.94,211.07 834.8,211.99C834.66,212.91 833.5,214.07 832.21,214.56C830.91,215.05 828.59,215.08 827.02,214.94C825.45,214.8 823.5,213.91 822.79,213.7M822.79,214.08L833.94,224.27M840.15,225.07L853.96,204.32L854.59,225.62M846.47,220.55L856.85,219.35M860.95,204.52C862.4,205.04 866.9,206.26 869.62,207.64C872.35,209.02 875.59,211.07 877.29,212.78C879,214.49 880.02,216.45 879.85,217.92C879.68,219.39 878.25,220.72 876.29,221.59C874.33,222.46 870.63,222.65 868.07,223.15C865.52,223.66 862.14,224.38 860.95,224.62M866.06,209.2L867.07,222.05M900.06,209.3C899.62,208.97 899.65,207.37 897.37,207.32C895.1,207.27 888.24,208.75 886.42,209.03M886.42,209.03L886.15,223.72L901.5,222.28M887.32,217.59L901.95,214.98M807.77,264.6C807.7,263.6 807.14,260.26 807.35,258.61C807.56,256.95 808.27,255.46 809.04,254.67C809.82,253.89 810.64,253.56 812,253.9C813.37,254.24 816.38,256.25 817.25,256.72M822.51,255.7C822.47,256.55 822,259.5 822.25,260.81C822.5,262.11 823.19,263.02 823.98,263.52C824.78,264.03 825.82,264.26 827.02,263.85C828.22,263.44 830.24,262.32 831.18,261.05C832.12,259.79 832.4,257.07 832.65,256.28M832.65,256.28L833.95,264.1M840.55,238.7L841.05,264.8M849.45,260.13C850.48,260.06 854.08,260.13 855.62,259.69C857.16,259.25 858.34,258.29 858.71,257.48C859.07,256.66 858.56,255.37 857.82,254.82C857.09,254.27 855.55,253.9 854.3,254.2C853.05,254.5 851.39,255.23 850.33,256.59C849.27,257.95 847.88,260.57 847.95,262.35C848.02,264.12 849.49,266.26 850.77,267.21C852.05,268.17 853.86,268.29 855.62,268.1C857.38,267.91 860.39,266.4 861.35,266.06M26.25,495.12L26.84,510.1L34.38,500.81L36.53,509.65L44.85,493.5M50.04,492.28C49.82,492.79 48.83,493.9 48.7,495.33C48.57,496.75 49.08,498.28 49.28,500.85C49.48,503.42 49.8,509.1 49.9,510.75M50.56,490.85C51.68,491.06 55,491.31 57.25,492.09C59.5,492.87 62.65,494.45 64.07,495.52C65.5,496.58 65.94,497.55 65.8,498.47C65.66,499.39 64.5,500.55 63.21,501.04C61.91,501.53 59.59,501.56 58.02,501.42C56.45,501.28 54.5,500.39 53.79,500.18M53.79,500.56L64.94,510.75M72.3,494.92L83.55,494M77.92,494.46L76.58,509.88M71.85,510.9L83.28,509.24M87.05,498.37C87.84,498.03 89.99,496.85 91.81,496.32C93.64,495.79 94.81,495.39 98,495.2C101.19,495.01 108.79,495.2 110.95,495.2M99.05,495.95L99.52,511.5M128.76,495.78C128.32,495.45 128.35,493.85 126.07,493.8C123.8,493.75 116.94,495.23 115.12,495.51M115.12,495.51L114.85,510.2L130.2,508.76M116.02,504.07L130.65,501.46M152.57,510.9C152.5,509.9 151.94,506.56 152.15,504.91C152.36,503.25 153.07,501.76 153.84,500.97C154.62,500.19 155.44,499.86 156.8,500.2C158.17,500.54 161.18,502.55 162.05,503.02M167.31,502C167.27,502.85 166.8,505.8 167.05,507.11C167.3,508.41 167.99,509.32 168.78,509.82C169.58,510.33 170.62,510.56 171.82,510.15C173.02,509.74 175.04,508.62 175.98,507.35C176.92,506.09 177.2,503.37 177.45,502.58M177.45,502.58L178.75,510.4M185.35,485L185.85,511.1M194.25,506.43C195.28,506.36 198.88,506.43 200.42,505.99C201.96,505.55 203.14,504.59 203.51,503.78C203.87,502.96 203.36,501.67 202.62,501.12C201.89,500.57 200.35,500.2 199.1,500.5C197.85,500.8 196.19,501.53 195.13,502.89C194.07,504.25 192.68,506.87 192.75,508.65C192.82,510.42 194.29,512.56 195.57,513.51C196.85,514.47 198.66,514.59 200.42,514.4C202.18,514.21 205.19,512.7 206.15,512.36M224.95,497.2L228.95,492.2L227.75,511.2M26.25,537.12L26.84,552.1L34.38,542.81L36.53,551.65L44.85,535.5M50.04,534.28C49.82,534.79 48.83,535.9 48.7,537.33C48.57,538.75 49.08,540.28 49.28,542.85C49.48,545.42 49.8,551.1 49.9,552.75M50.56,532.85C51.68,533.06 55,533.31 57.25,534.09C59.5,534.87 62.65,536.45 64.07,537.52C65.5,538.58 65.94,539.55 65.8,540.47C65.66,541.39 64.5,542.55 63.21,543.04C61.91,543.53 59.59,543.56 58.02,543.42C56.45,543.28 54.5,542.39 53.79,542.18M53.79,542.56L64.94,552.75M72.3,536.92L83.55,536M77.92,536.46L76.58,551.88M71.85,552.9L83.28,551.24M87.05,540.37C87.84,540.03 89.99,538.85 91.81,538.32C93.64,537.79 94.81,537.39 98,537.2C101.19,537.01 108.79,537.2 110.95,537.2M99.05,537.95L99.52,553.5M128.76,537.78C128.32,537.45 128.35,535.85 126.07,535.8C123.8,535.75 116.94,537.23 115.12,537.51M115.12,537.51L114.85,552.2L130.2,550.76M116.02,546.07L130.65,543.46M152.57,552.9C152.5,551.9 151.94,548.56 152.15,546.91C152.36,545.25 153.07,543.76 153.84,542.97C154.62,542.19 155.44,541.86 156.8,542.2C158.17,542.54 161.18,544.55 162.05,545.02M167.31,544C167.27,544.85 166.8,547.8 167.05,549.11C167.3,550.41 167.99,551.32 168.78,551.82C169.58,552.33 170.62,552.56 171.82,552.15C173.02,551.74 175.04,550.62 175.98,549.35C176.92,548.09 177.2,545.37 177.45,544.58M177.45,544.58L178.75,552.4M185.35,527L185.85,553.1M194.25,548.43C195.28,548.36 198.88,548.43 200.42,547.99C201.96,547.55 203.14,546.59 203.51,545.78C203.87,544.96 203.36,543.67 202.62,543.12C201.89,542.57 200.35,542.2 199.1,542.5C197.85,542.8 196.19,543.53 195.13,544.89C194.07,546.25 192.68,548.87 192.75,550.65C192.82,552.42 194.29,554.56 195.57,555.51C196.85,556.47 198.66,556.59 200.42,556.4C202.18,556.21 205.19,554.7 206.15,554.36M229.44,539.59C229.67,539.09 229.94,537.24 230.79,536.61C231.64,535.98 233.23,535.74 234.55,535.8C235.86,535.86 237.86,536.09 238.67,536.97C239.47,537.86 239.64,539.61 239.38,541.13C239.13,542.65 237.78,544.99 237.14,546.09C236.5,547.19 236.53,547.47 235.53,547.72C234.53,547.96 232.38,547.25 231.14,547.54C229.91,547.82 228.41,548.66 228.1,549.43C227.79,550.2 228.38,551.69 229.26,552.14C230.14,552.59 232.26,552.65 233.38,552.14C234.5,551.63 235.23,549.76 235.98,549.07C236.73,548.38 237.04,547.93 237.86,547.99C238.68,548.05 239.96,548.68 240.9,549.43C241.84,550.18 243.07,551.99 243.5,552.5M24.25,579.12L24.84,594.1L32.38,584.81L34.53,593.65L42.85,577.5M48.04,576.28C47.82,576.79 46.83,577.9 46.7,579.33C46.57,580.75 47.08,582.28 47.28,584.85C47.48,587.42 47.8,593.1 47.9,594.75M48.56,574.85C49.68,575.06 53,575.31 55.25,576.09C57.5,576.87 60.65,578.45 62.07,579.52C63.5,580.58 63.94,581.55 63.8,582.47C63.66,583.39 62.5,584.55 61.21,585.04C59.91,585.53 57.59,585.56 56.02,585.42C54.45,585.28 52.5,584.39 51.79,584.18M51.79,584.56L62.94,594.75M70.3,578.92L81.55,578M75.92,578.46L74.58,593.88M69.85,594.9L81.28,593.24M85.05,582.37C85.84,582.03 87.99,580.85 89.81,580.32C91.64,579.79 92.81,579.39 96,579.2C99.19,579.01 106.79,579.2 108.95,579.2M97.05,579.95L97.52,595.5M126.76,579.78C126.32,579.45 126.35,577.85 124.07,577.8C121.8,577.75 114.94,579.23 113.12,579.51M113.12,579.51L112.85,594.2L128.2,592.76M114.02,588.07L128.65,585.46M150.57,594.9C150.5,593.9 149.94,590.56 150.15,588.91C150.36,587.25 151.07,585.76 151.84,584.97C152.62,584.19 153.44,583.86 154.8,584.2C156.17,584.54 159.18,586.55 160.05,587.02M165.31,586C165.27,586.85 164.8,589.8 165.05,591.11C165.3,592.41 165.99,593.32 166.78,593.82C167.58,594.33 168.62,594.56 169.82,594.15C171.02,593.74 173.04,592.62 173.98,591.35C174.92,590.09 175.2,587.37 175.45,586.58M175.45,586.58L176.75,594.4M183.35,569L183.85,595.1M192.25,590.43C193.28,590.36 196.88,590.43 198.42,589.99C199.96,589.55 201.14,588.59 201.51,587.78C201.87,586.96 201.36,585.67 200.62,585.12C199.89,584.57 198.35,584.2 197.1,584.5C195.85,584.8 194.19,585.53 193.13,586.89C192.07,588.25 190.68,590.87 190.75,592.65C190.82,594.42 192.29,596.56 193.57,597.51C194.85,598.47 196.66,598.59 198.42,598.4C200.18,598.21 203.19,596.7 204.15,596.36M223.8,578.63C224.48,578.37 226.02,577.1 227.89,577.1C229.76,577.1 233.87,578 235,578.63C236.13,579.26 235.21,580.3 234.64,580.87C234.08,581.44 232.81,581.67 231.62,582.04C230.44,582.42 228.21,582.94 227.53,583.12M227.53,583.12C228.59,583.25 231.92,583.24 233.84,583.93C235.77,584.62 238.1,586.07 239.09,587.25C240.08,588.44 240.11,589.89 239.8,591.03C239.49,592.16 238.39,593.45 237.22,594.08C236.05,594.71 234.82,594.93 232.78,594.8C230.73,594.67 226.26,593.53 224.96,593.27M1111.56,495.06C1111.34,495.57 1110.35,496.68 1110.22,498.11C1110.09,499.53 1110.6,501.06 1110.8,503.63C1111,506.2 1111.32,511.88 1111.42,513.53M1112.08,493.63C1113.2,493.84 1116.52,494.09 1118.77,494.87C1121.02,495.65 1124.17,497.23 1125.59,498.3C1127.02,499.36 1127.46,500.33 1127.32,501.25C1127.18,502.17 1126.02,503.33 1124.73,503.82C1123.43,504.31 1121.11,504.34 1119.54,504.2C1117.97,504.06 1116.02,503.17 1115.31,502.96M1115.31,503.34L1126.46,513.53M1146.38,498.56C1145.94,498.23 1145.97,496.63 1143.69,496.58C1141.42,496.53 1134.56,498.01 1132.74,498.29M1132.74,498.29L1132.47,512.98L1147.82,511.54M1133.64,506.85L1148.27,504.24M1153.17,514.33L1166.98,493.58L1167.61,514.88M1159.49,509.81L1169.87,508.61M1174.47,493.78C1175.92,494.3 1180.42,495.52 1183.14,496.9C1185.87,498.28 1189.11,500.33 1190.81,502.04C1192.52,503.75 1193.54,505.71 1193.37,507.18C1193.2,508.65 1191.77,509.98 1189.81,510.85C1187.85,511.72 1184.15,511.91 1181.59,512.41C1179.04,512.92 1175.66,513.64 1174.47,513.88M1179.58,498.46L1180.59,511.31M1216.59,513.68C1216.52,512.68 1215.96,509.34 1216.17,507.69C1216.38,506.03 1217.09,504.54 1217.86,503.75C1218.64,502.97 1219.46,502.64 1220.82,502.98C1222.19,503.32 1225.2,505.33 1226.07,505.8M1231.33,504.78C1231.29,505.63 1230.82,508.58 1231.07,509.89C1231.32,511.19 1232.01,512.1 1232.8,512.6C1233.6,513.11 1234.64,513.34 1235.84,512.93C1237.04,512.52 1239.06,511.4 1240,510.13C1240.94,508.87 1241.22,506.15 1241.47,505.36M1241.47,505.36L1242.77,513.18M1249.37,487.78L1249.87,513.88M1258.27,509.21C1259.3,509.14 1262.9,509.21 1264.44,508.77C1265.98,508.33 1267.16,507.37 1267.53,506.56C1267.89,505.74 1267.38,504.45 1266.64,503.9C1265.91,503.35 1264.37,502.98 1263.12,503.28C1261.87,503.58 1260.21,504.31 1259.15,505.67C1258.09,507.03 1256.7,509.65 1256.77,511.43C1256.84,513.2 1258.31,515.34 1259.59,516.29C1260.87,517.25 1262.68,517.37 1264.44,517.18C1266.2,516.99 1269.21,515.48 1270.17,515.14M1289.27,497.41C1289.95,497.15 1291.49,495.88 1293.36,495.88C1295.23,495.88 1299.34,496.78 1300.47,497.41C1301.6,498.04 1300.68,499.08 1300.11,499.65C1299.55,500.22 1298.28,500.45 1297.09,500.82C1295.91,501.2 1293.68,501.72 1293,501.9M1293,501.9C1294.06,502.03 1297.39,502.02 1299.31,502.71C1301.24,503.4 1303.57,504.85 1304.56,506.03C1305.55,507.22 1305.58,508.67 1305.27,509.81C1304.96,510.94 1303.86,512.23 1302.69,512.86C1301.52,513.49 1300.29,513.71 1298.25,513.58C1296.2,513.45 1291.73,512.31 1290.43,512.05M1111.56,537.06C1111.34,537.57 1110.35,538.68 1110.22,540.11C1110.09,541.53 1110.6,543.06 1110.8,545.63C1111,548.2 1111.32,553.88 1111.42,555.53M1112.08,535.63C1113.2,535.84 1116.52,536.09 1118.77,536.87C1121.02,537.65 1124.17,539.23 1125.59,540.3C1127.02,541.36 1127.46,542.33 1127.32,543.25C1127.18,544.17 1126.02,545.33 1124.73,545.82C1123.43,546.31 1121.11,546.34 1119.54,546.2C1117.97,546.06 1116.02,545.17 1115.31,544.96M1115.31,545.34L1126.46,555.53M1146.38,540.56C1145.94,540.23 1145.97,538.63 1143.69,538.58C1141.42,538.53 1134.56,540.01 1132.74,540.29M1132.74,540.29L1132.47,554.98L1147.82,553.54M1133.64,548.85L1148.27,546.24M1153.17,556.33L1166.98,535.58L1167.61,556.88M1159.49,551.81L1169.87,550.61M1174.47,535.78C1175.92,536.3 1180.42,537.52 1183.14,538.9C1185.87,540.28 1189.11,542.33 1190.81,544.04C1192.52,545.75 1193.54,547.71 1193.37,549.18C1193.2,550.65 1191.77,551.98 1189.81,552.85C1187.85,553.72 1184.15,553.91 1181.59,554.41C1179.04,554.92 1175.66,555.64 1174.47,555.88M1179.58,540.46L1180.59,553.31M1216.59,555.68C1216.52,554.68 1215.96,551.34 1216.17,549.69C1216.38,548.03 1217.09,546.54 1217.86,545.75C1218.64,544.97 1219.46,544.64 1220.82,544.98C1222.19,545.32 1225.2,547.33 1226.07,547.8M1231.33,546.78C1231.29,547.63 1230.82,550.58 1231.07,551.89C1231.32,553.19 1232.01,554.1 1232.8,554.6C1233.6,555.11 1234.64,555.34 1235.84,554.93C1237.04,554.52 1239.06,553.4 1240,552.13C1240.94,550.87 1241.22,548.15 1241.47,547.36M1241.47,547.36L1242.77,555.18M1249.37,529.78L1249.87,555.88M1258.27,551.21C1259.3,551.14 1262.9,551.21 1264.44,550.77C1265.98,550.33 1267.16,549.37 1267.53,548.56C1267.89,547.74 1267.38,546.45 1266.64,545.9C1265.91,545.35 1264.37,544.98 1263.12,545.28C1261.87,545.58 1260.21,546.31 1259.15,547.67C1258.09,549.03 1256.7,551.65 1256.77,553.43C1256.84,555.2 1258.31,557.34 1259.59,558.29C1260.87,559.25 1262.68,559.37 1264.44,559.18C1266.2,558.99 1269.21,557.48 1270.17,557.14M1293.21,542.37C1293.44,541.87 1293.71,540.02 1294.56,539.39C1295.41,538.76 1297,538.52 1298.32,538.58C1299.63,538.64 1301.63,538.87 1302.44,539.75C1303.24,540.64 1303.41,542.39 1303.15,543.91C1302.9,545.43 1301.55,547.77 1300.91,548.87C1300.27,549.97 1300.3,550.25 1299.3,550.5C1298.3,550.74 1296.15,550.03 1294.91,550.32C1293.68,550.6 1292.18,551.44 1291.87,552.21C1291.56,552.98 1292.15,554.47 1293.03,554.92C1293.91,555.37 1296.03,555.43 1297.15,554.92C1298.27,554.41 1299,552.54 1299.75,551.85C1300.5,551.16 1300.81,550.71 1301.63,550.77C1302.45,550.83 1303.73,551.46 1304.67,552.21C1305.61,552.96 1306.84,554.77 1307.27,555.28M1109.56,579.06C1109.34,579.57 1108.35,580.68 1108.22,582.11C1108.09,583.53 1108.6,585.06 1108.8,587.63C1109,590.2 1109.32,595.88 1109.42,597.53M1110.08,577.63C1111.2,577.84 1114.52,578.09 1116.77,578.87C1119.02,579.65 1122.17,581.23 1123.59,582.3C1125.02,583.36 1125.46,584.33 1125.32,585.25C1125.18,586.17 1124.02,587.33 1122.73,587.82C1121.43,588.31 1119.11,588.34 1117.54,588.2C1115.97,588.06 1114.02,587.17 1113.31,586.96M1113.31,587.34L1124.46,597.53M1144.38,582.56C1143.94,582.23 1143.97,580.63 1141.69,580.58C1139.42,580.53 1132.56,582.01 1130.74,582.29M1130.74,582.29L1130.47,596.98L1145.82,595.54M1131.64,590.85L1146.27,588.24M1151.17,598.33L1164.98,577.58L1165.61,598.88M1157.49,593.81L1167.87,592.61M1172.47,577.78C1173.92,578.3 1178.42,579.52 1181.14,580.9C1183.87,582.28 1187.11,584.33 1188.81,586.04C1190.52,587.75 1191.54,589.71 1191.37,591.18C1191.2,592.65 1189.77,593.98 1187.81,594.85C1185.85,595.72 1182.15,595.91 1179.59,596.41C1177.04,596.92 1173.66,597.64 1172.47,597.88M1177.58,582.46L1178.59,595.31M1214.59,597.68C1214.52,596.68 1213.96,593.34 1214.17,591.69C1214.38,590.03 1215.09,588.54 1215.86,587.75C1216.64,586.97 1217.46,586.64 1218.82,586.98C1220.19,587.32 1223.2,589.33 1224.07,589.8M1229.33,588.78C1229.29,589.63 1228.82,592.58 1229.07,593.89C1229.32,595.19 1230.01,596.1 1230.8,596.6C1231.6,597.11 1232.64,597.34 1233.84,596.93C1235.04,596.52 1237.06,595.4 1238,594.13C1238.94,592.87 1239.22,590.15 1239.47,589.36M1239.47,589.36L1240.77,597.18M1247.37,571.78L1247.87,597.88M1256.27,593.21C1257.3,593.14 1260.9,593.21 1262.44,592.77C1263.98,592.33 1265.16,591.37 1265.53,590.56C1265.89,589.74 1265.38,588.45 1264.64,587.9C1263.91,587.35 1262.37,586.98 1261.12,587.28C1259.87,587.58 1258.21,588.31 1257.15,589.67C1256.09,591.03 1254.7,593.65 1254.77,595.43C1254.84,597.2 1256.31,599.34 1257.59,600.29C1258.87,601.25 1260.68,601.37 1262.44,601.18C1264.2,600.99 1267.21,599.48 1268.17,599.14M1286.97,583.98L1290.97,578.98L1289.77,597.98M359.05,518.41C358.3,518.33 356.12,517.62 354.55,517.95C352.98,518.28 350.17,519.51 349.65,520.41C349.13,521.3 349.5,522.29 351.45,523.32C353.4,524.35 359.48,525.52 361.35,526.6C363.22,527.68 363.18,529.03 362.65,529.79C362.12,530.54 360.1,531.35 358.15,531.15C356.2,530.95 352.15,529.03 350.95,528.6M377.05,522.88C376.82,522.34 376.48,520.22 375.65,519.61C374.82,519.01 373.4,518.77 372.05,519.25C370.7,519.73 368.3,521.23 367.55,522.52C366.8,523.81 366.87,525.76 367.55,526.97C368.23,528.18 369.7,529.09 371.65,529.79C373.6,530.48 377.98,530.92 379.25,531.15M382.85,512.95L383.75,529.78M384.05,526.12C384.75,525.38 386.95,522.6 388.25,521.64C389.55,520.68 390.88,520.09 391.85,520.36C392.82,520.64 393.38,521.57 394.05,523.29C394.72,525 395.55,529.42 395.85,530.65M402.05,525.18C403.08,525.11 406.68,525.18 408.22,524.74C409.76,524.3 410.94,523.34 411.31,522.53C411.67,521.71 411.16,520.42 410.42,519.87C409.69,519.32 408.15,518.95 406.9,519.25C405.65,519.55 403.99,520.28 402.93,521.64C401.87,523 400.48,525.62 400.55,527.4C400.62,529.17 402.09,531.31 403.37,532.26C404.65,533.22 406.46,533.34 408.22,533.15C409.98,532.96 412.99,531.45 413.95,531.11M416.45,521.91L416.95,529.64M416.95,526.75C417.35,526.24 418.48,524.57 419.35,523.7C420.22,522.82 421.43,521.31 422.15,521.49C422.87,521.67 423.48,523.57 423.65,524.8C423.82,526.03 423.23,528.2 423.15,528.88M423.35,527.6C423.87,526.95 425.37,524.77 426.45,523.7C427.53,522.62 428.97,521.11 429.85,521.15C430.73,521.19 431.27,522.54 431.75,523.95C432.23,525.37 432.58,528.69 432.75,529.64M447.05,521.42C446.27,521.29 443.93,520.24 442.35,520.65C440.77,521.06 438.35,522.68 437.55,523.9C436.75,525.13 436.92,527.13 437.55,528.01C438.18,528.89 439.92,529.48 441.35,529.21C442.78,528.94 445.03,527.34 446.15,526.38C447.27,525.43 447.73,523.96 448.05,523.47M448.05,523.47C448.35,523.82 448.85,524.53 449.85,525.53C450.85,526.53 453.35,528.81 454.05,529.47M385.2,558C385.5,558.94 386.23,561.82 387,563.64C387.78,565.45 388.66,568.79 389.85,568.9C391.04,569.01 392.72,566.11 394.12,564.3C395.53,562.48 397.6,559.05 398.3,558M401.45,553.18C402.13,552.92 403.67,551.65 405.54,551.65C407.41,551.65 411.52,552.55 412.65,553.18C413.78,553.81 412.86,554.85 412.29,555.42C411.73,555.99 410.46,556.22 409.27,556.59C408.09,556.97 405.86,557.49 405.18,557.67M405.18,557.67C406.24,557.8 409.57,557.79 411.49,558.48C413.42,559.17 415.75,560.62 416.74,561.8C417.73,562.99 417.76,564.44 417.45,565.58C417.14,566.71 416.04,568 414.87,568.63C413.7,569.26 412.47,569.48 410.43,569.35C408.38,569.22 403.91,568.08 402.61,567.82M646,516.51C645.25,516.43 643.07,515.72 641.5,516.05C639.93,516.38 637.12,517.61 636.6,518.51C636.08,519.4 636.45,520.39 638.4,521.42C640.35,522.45 646.43,523.62 648.3,524.7C650.17,525.78 650.13,527.13 649.6,527.89C649.07,528.64 647.05,529.45 645.1,529.25C643.15,529.05 639.1,527.13 637.9,526.7M664,520.98C663.77,520.44 663.43,518.32 662.6,517.71C661.77,517.11 660.35,516.87 659,517.35C657.65,517.83 655.25,519.33 654.5,520.62C653.75,521.91 653.82,523.86 654.5,525.07C655.18,526.28 656.65,527.19 658.6,527.89C660.55,528.58 664.93,529.02 666.2,529.25M669.8,511.05L670.7,527.88M671,524.22C671.7,523.48 673.9,520.7 675.2,519.74C676.5,518.78 677.83,518.19 678.8,518.46C679.77,518.74 680.33,519.67 681,521.39C681.67,523.1 682.5,527.52 682.8,528.75M689,523.28C690.03,523.21 693.63,523.28 695.17,522.84C696.71,522.4 697.89,521.44 698.26,520.63C698.62,519.81 698.11,518.52 697.37,517.97C696.64,517.42 695.1,517.05 693.85,517.35C692.6,517.65 690.94,518.38 689.88,519.74C688.82,521.1 687.43,523.72 687.5,525.5C687.57,527.27 689.04,529.41 690.32,530.36C691.6,531.32 693.41,531.44 695.17,531.25C696.93,531.06 699.94,529.55 700.9,529.21M703.4,520.01L703.9,527.74M703.9,524.85C704.3,524.34 705.43,522.67 706.3,521.8C707.17,520.92 708.38,519.41 709.1,519.59C709.82,519.77 710.43,521.67 710.6,522.9C710.77,524.13 710.18,526.3 710.1,526.98M710.3,525.7C710.82,525.05 712.32,522.87 713.4,521.8C714.48,520.72 715.92,519.21 716.8,519.25C717.68,519.29 718.22,520.64 718.7,522.05C719.18,523.47 719.53,526.79 719.7,527.74M734,519.52C733.22,519.39 730.88,518.34 729.3,518.75C727.72,519.16 725.3,520.78 724.5,522C723.7,523.23 723.87,525.23 724.5,526.11C725.13,526.99 726.87,527.58 728.3,527.31C729.73,527.04 731.98,525.44 733.1,524.48C734.22,523.53 734.68,522.06 735,521.57M735,521.57C735.3,521.92 735.8,522.63 736.8,523.63C737.8,524.63 740.3,526.91 741,527.57M671.49,556.19C671.79,557.13 672.52,560.01 673.29,561.83C674.07,563.64 674.95,566.98 676.14,567.09C677.33,567.2 679.01,564.3 680.41,562.49C681.82,560.67 683.89,557.24 684.59,556.19M690.98,554.33C691.21,553.83 691.48,551.98 692.33,551.35C693.18,550.72 694.77,550.48 696.09,550.54C697.4,550.6 699.4,550.83 700.21,551.71C701.01,552.6 701.18,554.35 700.92,555.87C700.67,557.39 699.32,559.73 698.68,560.83C698.04,561.93 698.07,562.21 697.07,562.46C696.07,562.7 693.92,561.99 692.68,562.28C691.45,562.56 689.95,563.4 689.64,564.17C689.33,564.94 689.92,566.43 690.8,566.88C691.68,567.33 693.8,567.39 694.92,566.88C696.04,566.37 696.77,564.5 697.52,563.81C698.27,563.12 698.58,562.67 699.4,562.73C700.22,562.79 701.5,563.42 702.44,564.17C703.38,564.92 704.61,566.73 705.04,567.24M920.1,516.51C919.35,516.43 917.17,515.72 915.6,516.05C914.03,516.38 911.22,517.61 910.7,518.51C910.18,519.4 910.55,520.39 912.5,521.42C914.45,522.45 920.53,523.62 922.4,524.7C924.27,525.78 924.23,527.13 923.7,527.89C923.17,528.64 921.15,529.45 919.2,529.25C917.25,529.05 913.2,527.13 912,526.7M938.1,520.98C937.87,520.44 937.53,518.32 936.7,517.71C935.87,517.11 934.45,516.87 933.1,517.35C931.75,517.83 929.35,519.33 928.6,520.62C927.85,521.91 927.92,523.86 928.6,525.07C929.28,526.28 930.75,527.19 932.7,527.89C934.65,528.58 939.03,529.02 940.3,529.25M943.9,511.05L944.8,527.88M945.1,524.22C945.8,523.48 948,520.7 949.3,519.74C950.6,518.78 951.93,518.19 952.9,518.46C953.87,518.74 954.43,519.67 955.1,521.39C955.77,523.1 956.6,527.52 956.9,528.75M963.1,523.28C964.13,523.21 967.73,523.28 969.27,522.84C970.81,522.4 971.99,521.44 972.36,520.63C972.72,519.81 972.21,518.52 971.47,517.97C970.74,517.42 969.2,517.05 967.95,517.35C966.7,517.65 965.04,518.38 963.98,519.74C962.92,521.1 961.53,523.72 961.6,525.5C961.67,527.27 963.14,529.41 964.42,530.36C965.7,531.32 967.51,531.44 969.27,531.25C971.03,531.06 974.04,529.55 975,529.21M977.5,520.01L978,527.74M978,524.85C978.4,524.34 979.53,522.67 980.4,521.8C981.27,520.92 982.48,519.41 983.2,519.59C983.92,519.77 984.53,521.67 984.7,522.9C984.87,524.13 984.28,526.3 984.2,526.98M984.4,525.7C984.92,525.05 986.42,522.87 987.5,521.8C988.58,520.72 990.02,519.21 990.9,519.25C991.78,519.29 992.32,520.64 992.8,522.05C993.28,523.47 993.63,526.79 993.8,527.74M1008.1,519.52C1007.32,519.39 1004.98,518.34 1003.4,518.75C1001.82,519.16 999.4,520.78 998.6,522C997.8,523.23 997.97,525.23 998.6,526.11C999.23,526.99 1000.97,527.58 1002.4,527.31C1003.83,527.04 1006.08,525.44 1007.2,524.48C1008.32,523.53 1008.78,522.06 1009.1,521.57M1009.1,521.57C1009.4,521.92 1009.9,522.63 1010.9,523.63C1011.9,524.63 1014.4,526.91 1015.1,527.57M952.26,555.73C952.56,556.67 953.29,559.55 954.06,561.37C954.84,563.18 955.72,566.52 956.91,566.63C958.1,566.74 959.78,563.84 961.18,562.03C962.59,560.21 964.66,556.78 965.36,555.73M967.58,553.48L971.58,548.48L970.38,567.48M433.1,644.6C434.55,645.12 439.05,646.34 441.77,647.72C444.5,649.1 447.74,651.15 449.44,652.86C451.15,654.57 452.17,656.53 452,658C451.83,659.47 450.4,660.8 448.44,661.67C446.48,662.54 442.78,662.73 440.22,663.23C437.67,663.74 434.29,664.46 433.1,664.7M438.21,649.28L439.22,662.13M467.45,646.9C468.4,647.28 471.8,647.84 473.13,649.17C474.45,650.49 475.4,652.94 475.4,654.83C475.4,656.72 474.83,659 473.13,660.5C471.43,661.99 467.55,663.8 465.18,663.8C462.82,663.8 460.17,662.08 458.94,660.5C457.71,658.91 457.42,656.15 457.8,654.26C458.18,652.38 459.6,650.39 461.21,649.17C462.82,647.94 466.13,647.21 467.45,646.9C468.78,646.59 468.87,647.21 469.15,647.28M481.5,648.72L482.09,663.7L489.63,654.41L491.78,663.25L500.1,647.1M506.6,664.9L508.19,656.72L510.3,648.46L514.44,663.61L519.9,644.6M538.11,647.1C537.09,647.57 533.96,648.65 531.98,649.95C530,651.25 527.32,653.25 526.22,654.9C525.13,656.56 524.85,658.42 525.4,659.86C525.95,661.3 527.87,663.06 529.51,663.54C531.16,664.01 533.9,663.38 535.27,662.71C536.65,662.04 537.33,660.03 537.74,659.5M532.81,655.36C534.51,655.61 541.08,656.19 543.05,656.83C545.01,657.48 544.68,657.48 544.6,659.22C544.52,660.96 542.92,665.95 542.59,667.3M551.09,645.88C550.87,646.39 549.88,647.5 549.75,648.93C549.62,650.35 550.13,651.88 550.33,654.45C550.53,657.02 550.85,662.7 550.95,664.35M551.61,644.45C552.73,644.66 556.05,644.91 558.3,645.69C560.55,646.47 563.7,648.05 565.12,649.12C566.55,650.18 566.99,651.15 566.85,652.07C566.71,652.99 565.55,654.15 564.26,654.64C562.96,655.13 560.64,655.16 559.07,655.02C557.5,654.88 555.55,653.99 554.84,653.78M554.84,654.16L565.99,664.35M572.2,665.15L586.01,644.4L586.64,665.7M578.52,660.63L588.9,659.43M593,644.6C594.45,645.12 598.95,646.34 601.67,647.72C604.4,649.1 607.64,651.15 609.34,652.86C611.05,654.57 612.07,656.53 611.9,658C611.73,659.47 610.3,660.8 608.34,661.67C606.38,662.54 602.68,662.73 600.12,663.23C597.57,663.74 594.19,664.46 593,664.7M598.11,649.28L599.12,662.13M632.11,649.38C631.67,649.05 631.7,647.45 629.42,647.4C627.15,647.35 620.29,648.83 618.47,649.11M618.47,649.11L618.2,663.8L633.55,662.36M619.37,657.67L634,655.06M516.62,704.75C516.55,703.75 515.99,700.41 516.2,698.76C516.41,697.1 517.12,695.61 517.89,694.82C518.67,694.04 519.49,693.71 520.85,694.05C522.22,694.39 525.23,696.4 526.1,696.87M531.36,695.85C531.32,696.7 530.85,699.65 531.1,700.96C531.35,702.26 532.04,703.17 532.83,703.67C533.63,704.18 534.67,704.41 535.87,704C537.07,703.59 539.09,702.47 540.03,701.2C540.97,699.94 541.25,697.22 541.5,696.43M541.5,696.43L542.8,704.25M549.4,678.85L549.9,704.95M558.3,700.28C559.33,700.21 562.93,700.28 564.47,699.84C566.01,699.4 567.19,698.44 567.56,697.63C567.92,696.81 567.41,695.52 566.67,694.97C565.94,694.42 564.4,694.05 563.15,694.35C561.9,694.65 560.24,695.38 559.18,696.74C558.12,698.1 556.73,700.72 556.8,702.5C556.87,704.27 558.34,706.41 559.62,707.36C560.9,708.32 562.71,708.44 564.47,708.25C566.23,708.06 569.24,706.55 570.2,706.21M719.2,647.53C720.65,648.05 725.15,649.27 727.87,650.65C730.6,652.03 733.84,654.08 735.54,655.79C737.25,657.5 738.27,659.46 738.1,660.93C737.93,662.4 736.5,663.73 734.54,664.6C732.58,665.47 728.88,665.66 726.32,666.16C723.77,666.67 720.39,667.39 719.2,667.63M724.31,652.21L725.32,665.06M753.55,649.83C754.5,650.21 757.9,650.77 759.23,652.1C760.55,653.42 761.5,655.87 761.5,657.76C761.5,659.65 760.93,661.93 759.23,663.43C757.53,664.92 753.65,666.73 751.28,666.73C748.92,666.73 746.27,665.01 745.04,663.43C743.81,661.84 743.52,659.08 743.9,657.19C744.28,655.31 745.7,653.32 747.31,652.1C748.92,650.87 752.23,650.14 753.55,649.83C754.88,649.52 754.97,650.14 755.25,650.21M767.6,651.65L768.19,666.63L775.73,657.34L777.88,666.18L786.2,650.03M792.7,667.83L794.29,659.65L796.4,651.39L800.54,666.54L806,647.53M824.21,650.03C823.19,650.5 820.06,651.58 818.08,652.88C816.1,654.18 813.42,656.18 812.32,657.83C811.23,659.49 810.95,661.35 811.5,662.79C812.05,664.23 813.97,665.99 815.61,666.47C817.26,666.94 820,666.31 821.37,665.64C822.75,664.97 823.43,662.96 823.84,662.43M818.91,658.29C820.61,658.54 827.18,659.12 829.15,659.76C831.11,660.41 830.78,660.41 830.7,662.15C830.62,663.89 829.02,668.88 828.69,670.23M837.19,648.81C836.97,649.32 835.98,650.43 835.85,651.86C835.72,653.28 836.23,654.81 836.43,657.38C836.63,659.95 836.95,665.63 837.05,667.28M837.71,647.38C838.83,647.59 842.15,647.84 844.4,648.62C846.65,649.4 849.8,650.98 851.22,652.05C852.65,653.11 853.09,654.08 852.95,655C852.81,655.92 851.65,657.08 850.36,657.57C849.06,658.06 846.74,658.09 845.17,657.95C843.6,657.81 841.65,656.92 840.94,656.71M840.94,657.09L852.09,667.28M858.3,668.08L872.11,647.33L872.74,668.63M864.62,663.56L875,662.36M879.1,647.53C880.55,648.05 885.05,649.27 887.77,650.65C890.5,652.03 893.74,654.08 895.44,655.79C897.15,657.5 898.17,659.46 898,660.93C897.83,662.4 896.4,663.73 894.44,664.6C892.48,665.47 888.78,665.66 886.22,666.16C883.67,666.67 880.29,667.39 879.1,667.63M884.21,652.21L885.22,665.06M918.21,652.31C917.77,651.98 917.8,650.38 915.52,650.33C913.25,650.28 906.39,651.76 904.57,652.04M904.57,652.04L904.3,666.73L919.65,665.29M905.47,660.6L920.1,657.99M802.72,707.68C802.65,706.68 802.09,703.34 802.3,701.69C802.51,700.03 803.22,698.54 803.99,697.75C804.77,696.97 805.59,696.64 806.95,696.98C808.32,697.32 811.33,699.33 812.2,699.8M817.46,698.78C817.42,699.63 816.95,702.58 817.2,703.89C817.45,705.19 818.14,706.1 818.93,706.6C819.73,707.11 820.77,707.34 821.97,706.93C823.17,706.52 825.19,705.4 826.13,704.13C827.07,702.87 827.35,700.15 827.6,699.36M827.6,699.36L828.9,707.18M835.5,681.78L836,707.88M844.4,703.21C845.43,703.14 849.03,703.21 850.57,702.77C852.11,702.33 853.29,701.37 853.66,700.56C854.02,699.74 853.51,698.45 852.77,697.9C852.04,697.35 850.5,696.98 849.25,697.28C848,697.58 846.34,698.31 845.28,699.67C844.22,701.03 842.83,703.65 842.9,705.43C842.97,707.2 844.44,709.34 845.72,710.29C847,711.25 848.81,711.37 850.57,711.18C852.33,710.99 855.34,709.48 856.3,709.14"/>
</g>
<g fill="#364fc7">
<circle cx="113.6" cy="203.4" r="2.4"/>
<circle cx="113.6" cy="243.5" r="2.4"/>
<circle cx="113.6" cy="283.6" r="2.4"/>
<circle cx="1199.1" cy="206.6" r="2.4"/>
<circle cx="1199.1" cy="246.3" r="2.4"/>
<circle cx="1199.1" cy="286.5" r="2.4"/>
<circle cx="108.6" cy="646.6" r="2.4"/>
<circle cx="108.6" cy="686.3" r="2.4"/>
<circle cx="108.6" cy="726.5" r="2.4"/>
<circle cx="1194.1" cy="649.6" r="2.4"/>
<circle cx="1194.1" cy="689.5" r="2.4"/>
<circle cx="1194.1" cy="729.6" r="2.4"/>
</g>
</svg>
</body></html>
